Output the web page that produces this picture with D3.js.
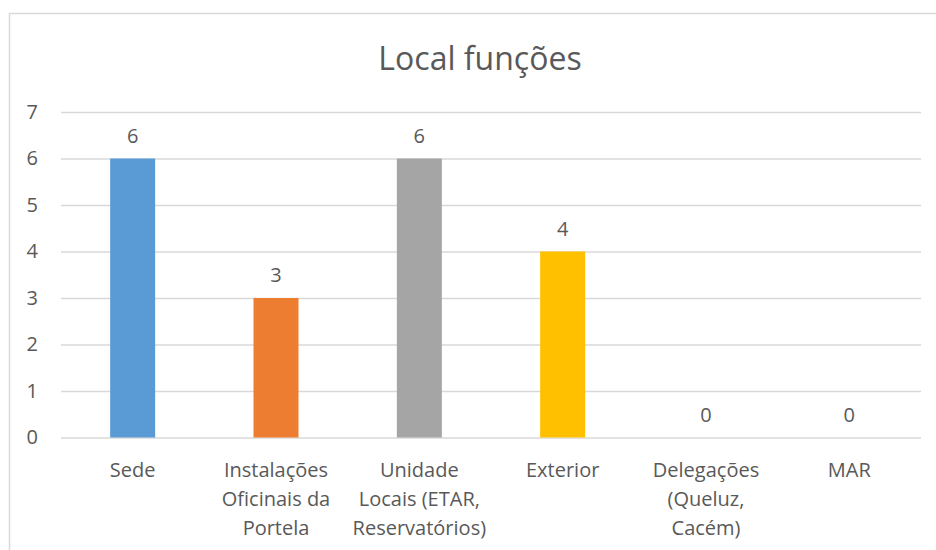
<!DOCTYPE html>
<html>
<head>
<meta charset="utf-8">
<script src="https://cdn.jsdelivr.net/npm/d3@7"></script>
<style>
  body { margin: 0; background: #fff; }
  svg text { font-family: "Open Sans", sans-serif; fill: #595959; }
</style>
</head>
<body>
<svg id="chart" width="936" height="550"></svg>
<script>
// Chart data
var categories = ['Sede', 'Instalações Oficinais da Portela', 'Unidade Locais (ETAR, Reservatórios)', 'Exterior', 'Delegações (Queluz, Cacém)', 'MAR'];
var categoryLines = [
    ['Sede'],
    ['Instalações', 'Oficinais da', 'Portela'],
    ['Unidade', 'Locais (ETAR,', 'Reservatórios)'],
    ['Exterior'],
    ['Delegações', '(Queluz,', 'Cacém)'],
    ['MAR']
];
var values = [6, 3, 6, 4, 0, 0];
var yTicks = [0, 1, 2, 3, 4, 5, 6, 7];
var title = 'Local funções';

var palette = ['#5B9BD5', '#ED7D31', '#A5A5A5', '#FFC000', '#4472C4', '#70AD47'];

var svg = d3.select('#chart');
var svgWidth = +svg.attr('width');
var svgHeight = +svg.attr('height');

// chart border (right/bottom edges fall outside the picture)
svg.append('rect')
    .attr('x', 9.5)
    .attr('y', 13.5)
    .attr('width', 960)
    .attr('height', 600)
    .attr('fill', 'none')
    .attr('stroke', '#d9d9d9')
    .attr('stroke-width', 1.5);

var padding = {t: 112, r: 15, b: 112.5, l: 61};
var chartWidth = svgWidth - padding.l - padding.r;
var chartHeight = svgHeight - padding.t - padding.b;

var chartG = svg.append('g')
    .attr('transform', 'translate(' + [padding.l, padding.t] + ')');

svg.append('text')
    .attr('x', 480)
    .attr('y', 70)
    .attr('text-anchor', 'middle')
    .style('font-size', '32px')
    .text(title);

var x = d3.scaleBand()
    .domain(categories)
    .range([0, chartWidth])
    .padding(0);
var barWidth = x.bandwidth() * 0.314;

var y = d3.scaleLinear()
    .domain([0, 7])
    .range([chartHeight, 0]);

// y axis + gridlines
var yAxis = d3.axisLeft(y)
    .tickValues(yTicks)
    .tickFormat(d3.format('d'))
    .tickSize(-chartWidth);
var yG = chartG.append('g').call(yAxis);
yG.select('.domain').remove();
yG.selectAll('.tick line').attr('stroke', '#d9d9d9').attr('stroke-width', 1.3);
yG.selectAll('.tick text')
    .attr('x', -23)
    .style('font-size', '20px')
    .attr('fill', '#595959');

// bars
chartG.selectAll('.bar')
    .data(values)
    .enter().append('rect')
    .attr('class', 'bar')
    .attr('x', function(d, i) { return x(categories[i]) + (x.bandwidth() - barWidth) / 2; })
    .attr('width', barWidth)
    .attr('y', function(d) { return y(d); })
    .attr('height', function(d) { return chartHeight - y(d); })
    .attr('fill', function(d, i) { return palette[i]; });

// value labels
chartG.selectAll('.label')
    .data(values)
    .enter().append('text')
    .attr('class', 'label')
    .attr('x', function(d, i) { return x(categories[i]) + x.bandwidth() / 2; })
    .attr('y', function(d) { return y(d) - 16; })
    .attr('text-anchor', 'middle')
    .style('font-size', '20px')
    .text(function(d) { return d; });

// x axis with wrapped labels
var xAxis = d3.axisBottom(x).tickSize(0).tickFormat('');
var xG = chartG.append('g')
    .attr('transform', 'translate(0,' + chartHeight + ')')
    .call(xAxis);
xG.select('.domain').remove();
xG.selectAll('.tick').each(function(d, i) {
    var t = d3.select(this).append('text')
        .attr('text-anchor', 'middle')
        .style('font-size', '20px')
        .attr('fill', '#595959');
    categoryLines[i].forEach(function(line, j) {
        t.append('tspan')
            .attr('x', 0)
            .attr('y', 39.5 + j * 29)
            .text(line);
    });
});
</script>
</body>
</html>
